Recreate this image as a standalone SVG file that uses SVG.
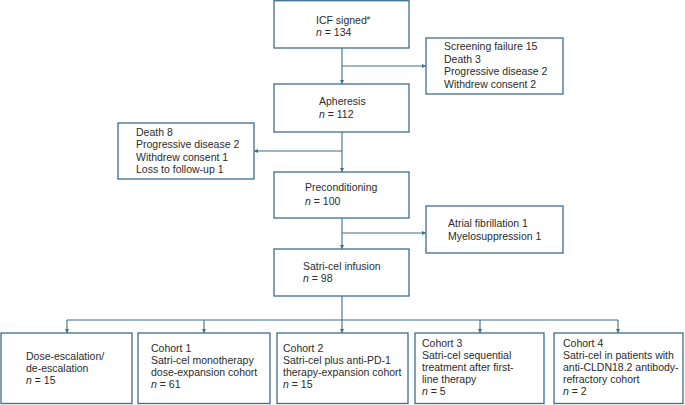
<svg xmlns="http://www.w3.org/2000/svg" width="685" height="405" viewBox="0 0 685 405">
<style>
.box{fill:#fff;stroke:#3f6d8e;stroke-width:1.3}
.ln{fill:none;stroke:#3f6d8e;stroke-width:1.1}
text{font-family:"Liberation Sans",Arial,sans-serif;font-size:10.5px;fill:#2b2b2b}
.i{font-style:italic}
</style>
<defs>
<marker id="ah" viewBox="0 0 6 6" refX="6" refY="3" markerWidth="4" markerHeight="4" orient="auto" markerUnits="userSpaceOnUse">
<path d="M0,0 L6,3 L0,6 Z" fill="#3f6d8e"/>
</marker>
</defs>
<rect width="685" height="405" fill="#fff"/>
<g id="connectors">
<line class="ln" x1="342" y1="48" x2="342" y2="84" marker-end="url(#ah)"/>
<line class="ln" x1="342" y1="66" x2="426" y2="66" marker-end="url(#ah)"/>
<line class="ln" x1="342" y1="132" x2="342" y2="172" marker-end="url(#ah)"/>
<line class="ln" x1="342" y1="151" x2="254" y2="151" marker-end="url(#ah)"/>
<line class="ln" x1="342" y1="218" x2="342" y2="249" marker-end="url(#ah)"/>
<line class="ln" x1="342" y1="233" x2="426" y2="233" marker-end="url(#ah)"/>
<line class="ln" x1="342" y1="296" x2="342" y2="320"/>
<line class="ln" x1="67" y1="320" x2="618" y2="320"/>
<line class="ln" x1="67" y1="320" x2="67" y2="333" marker-end="url(#ah)"/>
<line class="ln" x1="204" y1="320" x2="204" y2="333" marker-end="url(#ah)"/>
<line class="ln" x1="342" y1="320" x2="342" y2="333" marker-end="url(#ah)"/>
<line class="ln" x1="480" y1="320" x2="480" y2="333" marker-end="url(#ah)"/>
<line class="ln" x1="618" y1="320" x2="618" y2="333" marker-end="url(#ah)"/>
</g>
<g id="icf">
<rect class="box" x="274" y="0.7" width="135" height="47.3"/>
<text x="316" y="24">ICF signed<tspan dy="-4" font-size="6">#</tspan></text>
<text x="316" y="36"><tspan class="i">n</tspan> = 134</text>
</g>
<g id="screening">
<rect class="box" x="426" y="38" width="137" height="56"/>
<text x="444" y="50">Screening failure 15</text>
<text x="444" y="62.5">Death 3</text>
<text x="444" y="75">Progressive disease 2</text>
<text x="444" y="87.5">Withdrew consent 2</text>
</g>
<g id="apheresis">
<rect class="box" x="274" y="84" width="135" height="48"/>
<text x="319" y="105">Apheresis</text>
<text x="319" y="117.5"><tspan class="i">n</tspan> = 112</text>
</g>
<g id="apheresis-loss">
<rect class="box" x="118" y="123" width="136" height="56"/>
<text x="136" y="136">Death 8</text>
<text x="136" y="148">Progressive disease 2</text>
<text x="136" y="160.5">Withdrew consent 1</text>
<text x="136" y="173">Loss to follow-up 1</text>
</g>
<g id="preconditioning">
<rect class="box" x="274" y="172" width="135" height="46"/>
<text x="305" y="191">Preconditioning</text>
<text x="305" y="204.5"><tspan class="i">n</tspan> = 100</text>
</g>
<g id="precond-loss">
<rect class="box" x="426" y="206" width="137" height="47"/>
<text x="448" y="227">Atrial fibrillation 1</text>
<text x="448" y="239.5">Myelosuppression 1</text>
</g>
<g id="infusion">
<rect class="box" x="274" y="249" width="135" height="47"/>
<text x="303" y="270">Satri-cel infusion</text>
<text x="303" y="282"><tspan class="i">n</tspan> = 98</text>
</g>
<g id="dose-escalation">
<rect class="box" x="1" y="333" width="131" height="70.5"/>
<text x="26" y="360">Dose-escalation/</text>
<text x="26" y="372">de-escalation</text>
<text x="26" y="384"><tspan class="i">n</tspan> = 15</text>
</g>
<g id="cohort1">
<rect class="box" x="138" y="333" width="132" height="70.5"/>
<text x="151" y="352">Cohort 1</text>
<text x="151" y="364">Satri-cel monotherapy</text>
<text x="151" y="376">dose-expansion cohort</text>
<text x="151" y="388"><tspan class="i">n</tspan> = 61</text>
</g>
<g id="cohort2">
<rect class="box" x="277" y="333" width="131" height="70.5"/>
<text x="283" y="352">Cohort 2</text>
<text x="283" y="364">Satri-cel plus anti-PD-1</text>
<text x="283" y="376">therapy-expansion cohort</text>
<text x="283" y="388"><tspan class="i">n</tspan> = 15</text>
</g>
<g id="cohort3">
<rect class="box" x="415" y="333" width="129" height="70.5"/>
<text x="422" y="347">Cohort 3</text>
<text x="422" y="359">Satri-cel sequential</text>
<text x="422" y="371">treatment after first-</text>
<text x="422" y="383">line therapy</text>
<text x="422" y="395"><tspan class="i">n</tspan> = 5</text>
</g>
<g id="cohort4">
<rect class="box" x="554" y="333" width="129" height="70.5"/>
<text x="563" y="347">Cohort 4</text>
<text x="563" y="359">Satri-cel in patients with</text>
<text x="563" y="371">anti-CLDN18.2 antibody-</text>
<text x="563" y="383">refractory cohort</text>
<text x="563" y="395"><tspan class="i">n</tspan> = 2</text>
</g>
</svg>
